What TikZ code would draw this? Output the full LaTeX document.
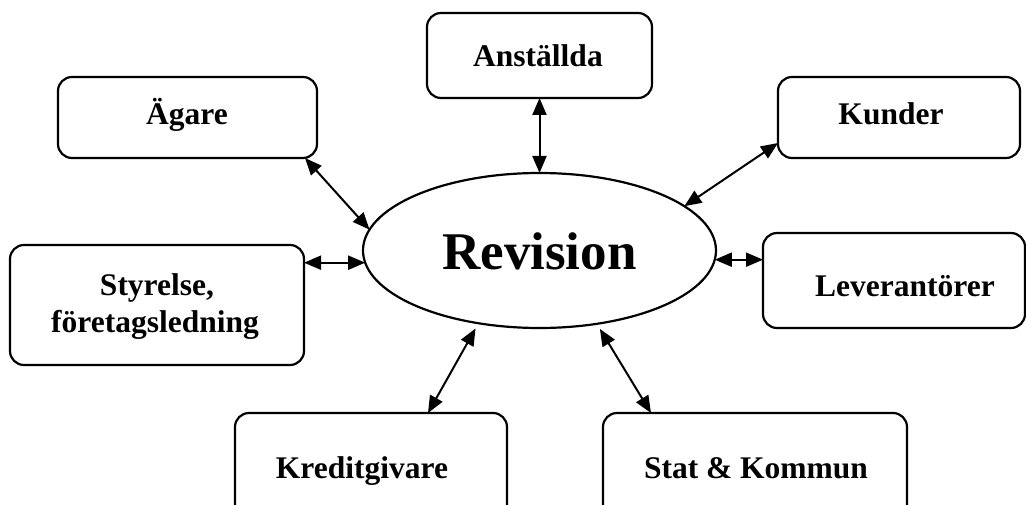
\documentclass[tikz,border=0pt]{standalone}
\usepackage{fontspec}
\setmainfont{Liberation Serif}
\usetikzlibrary{shapes.geometric,arrows.meta}
\tikzset{
  box/.style={draw, line width=2.2pt, rounded corners=14pt, inner sep=0pt, outer sep=0pt},
  oval/.style={draw, ellipse, line width=2.2pt, inner sep=0pt, outer sep=0pt, minimum width=353pt, minimum height=155pt},
  lbl/.style={anchor=base, inner sep=0pt, font=\bfseries\fontsize{31.5}{37}\selectfont},
  biglbl/.style={anchor=base, inner sep=0pt, font=\bfseries\fontsize{53}{60}\selectfont},
  arr/.style={line width=2pt, {Triangle[length=17pt,width=14pt]}-{Triangle[length=17pt,width=14pt]}}
}
\begin{document}
\begin{tikzpicture}[x=1pt,y=-1pt]
\useasboundingbox (0,0) rectangle (1026,505);
\clip (0,0) rectangle (1026,505);
% boxes
\node[box, minimum width=225pt, minimum height=85pt] (ans) at (539.5,55.5) {};
\node[box, minimum width=259pt, minimum height=81pt] (aga) at (187.5,117.5) {};
\node[box, minimum width=242pt, minimum height=81pt] (kun) at (899,117.5) {};
\node[box, minimum width=294pt, minimum height=120pt] (sty) at (157,305) {};
\node[box, minimum width=262pt, minimum height=95pt] (lev) at (894,280.5) {};
\node[box, minimum width=272pt, minimum height=117pt] (kre) at (371,471.5) {};
\node[box, minimum width=304pt, minimum height=117pt] (sta) at (755,471.5) {};
\node[oval] (rev) at (539.5,250.5) {};
% labels
\node[lbl] (ansl) at (538,67) {Anställda};
\node[lbl] (agal) at (187,125) {Ägare};
\node[lbl] (kunl) at (891,125) {Kunder};
\node[lbl] (styl1) at (157,295) {Styrelse,};
\node[lbl] (styl2) at (155,332) {företagsledning};
\node[lbl] (levl) at (905,297) {Leverantörer};
\node[lbl] (krel) at (362,478) {Kreditgivare};
\node[lbl] (stal) at (756,478) {Stat \& Kommun};
\node[biglbl] (revl) at (539.5,270) {Revision};
% connectors
\draw[arr] ([xshift=-12pt]aga.south east) -- (rev.173.2);
\draw[arr] (rev.north |- ans.south) -- (rev.north);
\draw[arr] ([yshift=-25.5pt]kun.west) -- (rev.17.7);
\draw[arr] (rev.184.4 -| sty.east) -- (rev.184.4);
\draw[arr] (rev.357.9) -- (rev.357.9 -| lev.west);
\draw[arr, shorten >=6pt] ([xshift=193pt]kre.north west) -- (rev.230.5);
\draw[arr, shorten >=6pt] ([xshift=48pt]sta.north west) -- (rev.308.6);
\end{tikzpicture}
\end{document}
